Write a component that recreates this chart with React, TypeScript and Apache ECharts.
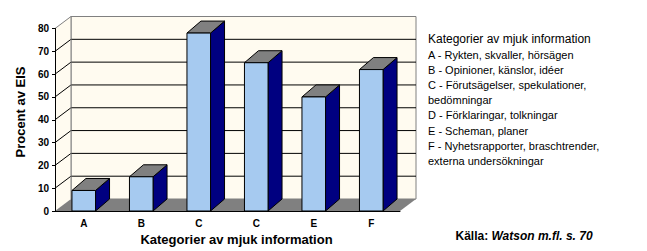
import React, { useEffect, useRef } from "react";
import * as echarts from "echarts";

const categories = ["A", "B", "C", "C", "E", "F"];
const values = [9, 15, 78, 65, 50, 62];
const yMin = 0;
const yMax = 80;
const yStep = 10;

const yTitle = "Procent av EIS";
const xTitle = "Kategorier av mjuk information";
const legendTitle = "Kategorier av mjuk information";
const legendLines = [
  "A - Rykten, skvaller, hörsägen",
  "B - Opinioner, känslor, idéer",
  "C - Förutsägelser, spekulationer,",
  "bedömningar",
  "D - Förklaringar, tolkningar",
  "E - Scheman, planer",
  "F - Nyhetsrapporter, braschtrender,",
  "externa undersökningar",
];
const sourceLabel = "Källa:";
const sourceRef = "Watson m.fl. s. 70";

const FONT = "'Liberation Sans', Arial, sans-serif";
const WALL = "#FFFBF0";
const GRAY = "#808080";
const FRONT = "#A6CAF0";
const SIDE = "#000080";
const WDX = 16;
const WDY = -12;
const BDX = 14;
const BDY = -12;

export default function App() {
  const ref = useRef<HTMLDivElement>(null);
  useEffect(() => {
    if (!ref.current) return;
    const chart = echarts.init(ref.current, null, { renderer: "svg" });

    const tickValues: number[] = [];
    for (let v = yMin; v <= yMax; v += yStep) tickValues.push(v);

    const wallsRender = (params: any, api: any) => {
      const cs = params.coordSys;
      const left = cs.x;
      const top = cs.y;
      const right = cs.x + cs.width;
      const bottom = cs.y + cs.height;
      const children: any[] = [];
      children.push({
        type: "rect",
        shape: { x: left + WDX, y: top + WDY, width: cs.width, height: cs.height },
        style: { fill: WALL, stroke: GRAY, lineWidth: 1 },
      });
      children.push({
        type: "polygon",
        shape: {
          points: [
            [left, top],
            [left + WDX, top + WDY],
            [left + WDX, bottom + WDY],
            [left, bottom],
          ],
        },
        style: { fill: WALL },
      });
      tickValues.forEach((v) => {
        if (v === yMin) return;
        const y = api.coord([0, v])[1];
        const col = v === yMax ? GRAY : "#000";
        if (v !== yMax) {
          children.push({
            type: "line",
            shape: { x1: left + WDX, y1: y + WDY, x2: right + WDX, y2: y + WDY },
            style: { stroke: "#000", lineWidth: 1 },
          });
        }
        children.push({
          type: "line",
          shape: { x1: left, y1: y, x2: left + WDX, y2: y + WDY },
          style: { stroke: col, lineWidth: 1 },
        });
      });
      children.push({
        type: "line",
        shape: { x1: left + WDX, y1: top + WDY, x2: left + WDX, y2: bottom + WDY },
        style: { stroke: GRAY, lineWidth: 1 },
      });
      children.push({
        type: "polygon",
        shape: {
          points: [
            [left, bottom],
            [right, bottom],
            [right + WDX, bottom + WDY],
            [left + WDX, bottom + WDY],
          ],
        },
        style: { fill: GRAY },
      });
      return { type: "group", children };
    };

    const barsRender = (params: any, api: any) => {
      const idx = api.value(0);
      const val = api.value(1);
      const topPt = api.coord([idx, val]);
      const basePt = api.coord([idx, 0]);
      const w = api.size([1, 0])[0] * 0.41;
      const x0 = topPt[0] - w / 2;
      const x1 = topPt[0] + w / 2;
      const yt = topPt[1];
      const yb = basePt[1];
      const st = { stroke: "#000", lineWidth: 1 };
      return {
        type: "group",
        children: [
          {
            type: "polygon",
            shape: {
              points: [
                [x1, yt],
                [x1 + BDX, yt + BDY],
                [x1 + BDX, yb + BDY],
                [x1, yb],
              ],
            },
            style: { fill: SIDE, ...st },
          },
          {
            type: "polygon",
            shape: {
              points: [
                [x0, yt],
                [x0 + BDX, yt + BDY],
                [x1 + BDX, yt + BDY],
                [x1, yt],
              ],
            },
            style: { fill: GRAY, ...st },
          },
          {
            type: "rect",
            shape: { x: x0, y: yt, width: w, height: yb - yt },
            style: { fill: FRONT, ...st },
          },
        ],
      };
    };

    chart.setOption({
      animation: false,
      backgroundColor: "#fff",
      grid: { left: 55, top: 28.5, width: 345, height: 182.5, containLabel: false },
      xAxis: {
        type: "category",
        data: categories,
        z: 10,
        axisLine: { lineStyle: { color: "#000", width: 1 } },
        axisTick: { length: 3, lineStyle: { color: "#000" } },
        axisLabel: {
          color: "#000",
          fontFamily: FONT,
          fontSize: 10,
          fontWeight: "bold",
          margin: 7,
        },
      },
      yAxis: {
        type: "value",
        min: yMin,
        max: yMax,
        interval: yStep,
        z: 10,
        axisLine: { show: true, lineStyle: { color: "#000", width: 1 } },
        axisTick: { show: true, length: 3, lineStyle: { color: "#000" } },
        axisLabel: {
          color: "#000",
          fontFamily: FONT,
          fontSize: 10,
          fontWeight: "bold",
          margin: 6,
        },
        splitLine: { show: false },
      },
      series: [
        {
          type: "custom",
          z: 1,
          silent: true,
          clip: false,
          data: [[0, 0]],
          renderItem: wallsRender,
        },
        {
          type: "custom",
          z: 3,
          clip: false,
          data: values.map((v, i) => [i, v]),
          encode: { x: 0, y: 1 },
          renderItem: barsRender,
        },
      ],
      graphic: [
        {
          type: "text",
          x: 20,
          y: 112,
          rotation: Math.PI / 2,
          style: {
            text: yTitle,
            fill: "#000",
            font: `bold 13px ${FONT}`,
            align: "center",
            verticalAlign: "middle",
          },
        },
        {
          type: "text",
          x: 236.5,
          y: 239,
          style: {
            text: xTitle,
            fill: "#000",
            font: `bold 13px ${FONT}`,
            align: "center",
            verticalAlign: "middle",
          },
        },
        {
          type: "text",
          x: 428,
          y: 39,
          style: {
            text: legendTitle,
            fill: "#000",
            font: `12px ${FONT}`,
            align: "left",
            verticalAlign: "middle",
          },
        },
        {
          type: "text",
          x: 428,
          y: 47.5,
          style: {
            text: legendLines.join("\n"),
            fill: "#000",
            font: `11px ${FONT}`,
            lineHeight: 15.1,
            align: "left",
            verticalAlign: "top",
          },
        },
        {
          type: "text",
          x: 455.5,
          y: 235.7,
          style: {
            text: `{a|${sourceLabel}} {b|${sourceRef}}`,
            align: "left",
            verticalAlign: "middle",
            rich: {
              a: { fontFamily: FONT, fontSize: 12, fontWeight: "bold", fill: "#000" },
              b: {
                fontFamily: FONT,
                fontSize: 12,
                fontWeight: "bold",
                fontStyle: "italic",
                fill: "#000",
              },
            },
          },
        },
      ],
    });
    return () => chart.dispose();
  }, []);
  return (
    <div
      ref={ref}
      style={{ position: "fixed", left: 0, top: 0, width: 647, height: 251 }}
    />
  );
}
